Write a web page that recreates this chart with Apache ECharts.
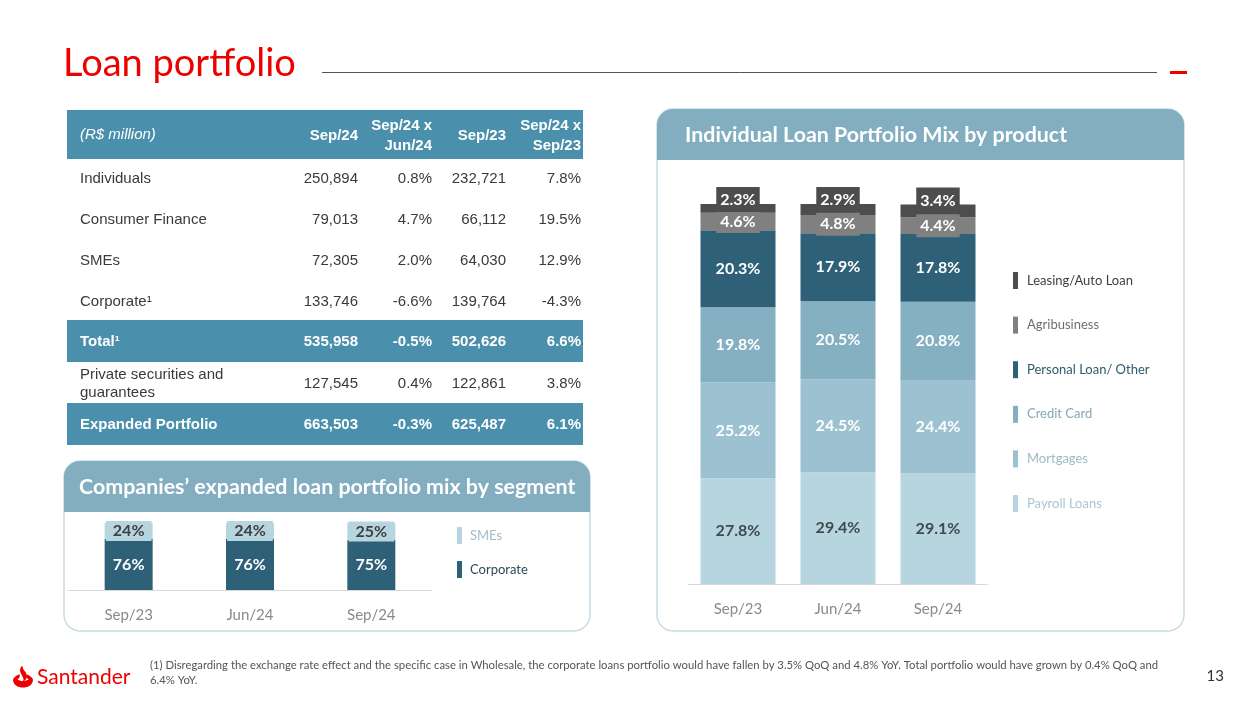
<!DOCTYPE html>
<html>
<head>
<meta charset="utf-8">
<script src="https://cdn.jsdelivr.net/npm/echarts@6/dist/echarts.min.js"></script>
<style>
html,body{margin:0;padding:0;background:#fff;}
#main{width:1246px;height:701px;}
</style>
</head>
<body>
<div id="main"></div>
<script>
// ---------- DATA ----------
const categories = ['Sep/23', 'Jun/24', 'Sep/24'];

// Companies' expanded loan portfolio mix by segment (%)
const smesShare = [24, 24, 25];
const corporateShare = [76, 76, 75];

// Individual Loan Portfolio Mix by product (%)
const productNames = ['Leasing/Auto Loan', 'Agribusiness', 'Personal Loan/ Other', 'Credit Card', 'Mortgages', 'Payroll Loans'];
const payrollLoans = [27.8, 29.4, 29.1];
const mortgages = [25.2, 24.5, 24.4];
const creditCard = [19.8, 20.5, 20.8];
const personalLoan = [20.3, 17.9, 17.8];
const agribusiness = [4.6, 4.8, 4.4];
const leasingAuto = [2.3, 2.9, 3.4];

// Table (R$ million)
const tableHeaders = ['(R$ million)', 'Sep/24', 'Sep/24 x\nJun/24', 'Sep/23', 'Sep/24 x\nSep/23'];
const tableRows = ['Individuals', 'Consumer Finance', 'SMEs', 'Corporate¹', 'Total¹', 'Private securities and\nguarantees', 'Expanded Portfolio'];
const colSep24 = ['250,894', '79,013', '72,305', '133,746', '535,958', '127,545', '663,503'];
const colQoQ = ['0.8%', '4.7%', '2.0%', '-6.6%', '-0.5%', '0.4%', '-0.3%'];
const colSep23 = ['232,721', '66,112', '64,030', '139,764', '502,626', '122,861', '625,487'];
const colYoY = ['7.8%', '19.5%', '12.9%', '-4.3%', '6.6%', '3.8%', '6.1%'];
const highlightedRows = ['Total¹', 'Expanded Portfolio'];

const footnote = '(1) Disregarding the exchange rate effect and the specific case in Wholesale, the corporate loans portfolio would have fallen by 3.5% QoQ and 4.8% YoY. Total portfolio would have grown by 0.4% QoQ and\n6.4% YoY.';

// ---------- STYLE / LAYOUT ----------
const RED = '#EC0000';
const TABLE_BLUE = '#4a8fab';
const PANEL_BLUE = '#82aebf';
const PANEL_BORDER = '#c8dbe3';
const C_LEASING = '#4d4d4d', C_AGRI = '#808080', C_PERSONAL = '#2e6177',
      C_CARD = '#84b0c1', C_MORT = '#9cc2d2', C_PAYROLL = '#b7d5df';
const FONT = 'Lato';

const colRight = [358, 432, 506, 581];
const rowY = [179, 220, 261, 302, 342, 384, 425];
const rowBand = {'Total¹': [320, 42], 'Expanded Portfolio': [403, 42]};

const graphics = [];
// Title
graphics.push({type: 'text', style: {text: 'Loan portfolio', x: 63, y: 64, fill: RED, font: '38px ' + FONT, textVerticalAlign: 'middle'}});
graphics.push({type: 'line', shape: {x1: 322, y1: 72.5, x2: 1157, y2: 72.5}, style: {stroke: '#555', lineWidth: 1}});
graphics.push({type: 'rect', shape: {x: 1170, y: 71, width: 17, height: 3}, style: {fill: RED}});

// Table backgrounds
graphics.push({type: 'rect', shape: {x: 67, y: 110, width: 516, height: 49}, style: {fill: TABLE_BLUE}});
tableRows.forEach(function (r) {
  if (rowBand[r]) graphics.push({type: 'rect', shape: {x: 67, y: rowBand[r][0], width: 516, height: rowBand[r][1]}, style: {fill: TABLE_BLUE}});
});
// Table header
graphics.push({type: 'text', style: {text: tableHeaders[0], x: 80, y: 135, fill: '#fff', font: 'italic 15px "Liberation Sans", Arial', textVerticalAlign: 'middle'}});
for (let c = 1; c < tableHeaders.length; c++) {
  graphics.push({type: 'text', style: {text: tableHeaders[c], x: colRight[c - 1], y: 136, fill: '#fff', font: 'bold 15px "Liberation Sans", Arial', textAlign: 'right', textVerticalAlign: 'middle', lineHeight: 20}});
}
// Table body
const cols = [colSep24, colQoQ, colSep23, colYoY];
tableRows.forEach(function (r, i) {
  const hl = highlightedRows.indexOf(r) >= 0;
  const fill = hl ? '#fff' : '#3a3a3a';
  const font = (hl ? 'bold ' : '') + '15px "Liberation Sans", Arial';
  graphics.push({type: 'text', style: {text: r, x: 80, y: rowY[i], fill: fill, font: font, textVerticalAlign: 'middle', lineHeight: 18}});
  cols.forEach(function (col, c) {
    graphics.push({type: 'text', style: {text: col[i], x: colRight[c], y: rowY[i], fill: fill, font: font, textAlign: 'right', textVerticalAlign: 'middle'}});
  });
});

// Panels
function panel(x, y, w, h, title, titleX) {
  graphics.push({type: 'rect', shape: {x: x, y: y, width: w, height: h, r: 16}, style: {fill: '#fff', stroke: PANEL_BORDER, lineWidth: 1.5}, z: -10});
  graphics.push({type: 'rect', shape: {x: x, y: y, width: w, height: 51, r: [16, 16, 0, 0]}, style: {fill: PANEL_BLUE}, z: -9});
  graphics.push({type: 'text', style: {text: title, x: titleX, y: y + 26, fill: '#fff', font: 'bold 21.4px ' + FONT, textVerticalAlign: 'middle'}, z: -8});
}
panel(64, 461, 526, 170, 'Companies’ expanded loan portfolio mix by segment', 79);
panel(657, 109, 527, 522, 'Individual Loan Portfolio Mix by product', 685);

// Footer
graphics.push({type: 'text', style: {text: footnote, x: 150, y: 673, fill: '#555', font: '11.3px ' + FONT, textVerticalAlign: 'middle', lineHeight: 15}});
graphics.push({type: 'text', style: {text: '13', x: 1224, y: 676, fill: '#333', font: '15px ' + FONT, textAlign: 'right', textVerticalAlign: 'middle'}});
// Santander flame logo (approximation)
graphics.push({type: 'polygon', shape: {smooth: 0.35, points: [[13, 680], [16, 676], [19.5, 674.5], [19.5, 677.5], [17.5, 679.5], [23, 681], [28.5, 679.5], [26.5, 677.5], [26.5, 674.5], [30, 676], [33, 680], [30, 685.5], [23, 687.5], [16, 685.5]]}, style: {fill: RED}});
graphics.push({type: 'polygon', shape: {smooth: 0.4, points: [[22, 666], [20, 670.5], [22, 675.5], [23.5, 679], [23, 681.5], [26.5, 678.5], [26, 673], [23.5, 669.5]]}, style: {fill: RED}});
graphics.push({type: 'text', style: {text: 'Santander', x: 37, y: 677, fill: RED, font: '21px ' + FONT, textVerticalAlign: 'middle'}});

// ---------- SERIES ----------
const lbl = function (color, extra) {
  return Object.assign({show: true, position: 'inside', formatter: '{c}%', color: color, fontFamily: FONT, fontWeight: 'bold', fontSize: 16}, extra || {});
};

const option = {
  animation: false,
  textStyle: {fontFamily: FONT},
  graphic: {elements: graphics},
  grid: [
    {left: 68, top: 523, width: 364, height: 67},
    {left: 688, top: 204, width: 300, height: 380}
  ],
  xAxis: [
    {gridIndex: 0, type: 'category', data: categories, axisTick: {show: false},
     axisLine: {lineStyle: {color: '#d9d9d9'}}, axisLabel: {color: '#8a8a8a', fontSize: 15, margin: 18, fontFamily: FONT}},
    {gridIndex: 1, type: 'category', data: categories, axisTick: {show: false},
     axisLine: {lineStyle: {color: '#d9d9d9'}}, axisLabel: {color: '#8a8a8a', fontSize: 15, margin: 18, fontFamily: FONT}}
  ],
  yAxis: [
    {gridIndex: 0, type: 'value', min: 0, max: 100, show: false},
    {gridIndex: 1, type: 'value', min: 0, max: 100, show: false}
  ],
  legend: [
    {orient: 'vertical', left: 457, top: 527, padding: 0, itemWidth: 5, itemHeight: 17, itemGap: 17, icon: 'rect', selectedMode: false,
     textStyle: {fontSize: 13, fontFamily: FONT, padding: [0, 0, 0, 3]},
     data: [{name: 'SMEs', textStyle: {color: '#a3bcc6'}}, {name: 'Corporate', textStyle: {color: '#2f4a57'}}]},
    {orient: 'vertical', left: 1013, top: 272, padding: 0, itemWidth: 5, itemHeight: 17, itemGap: 27.6, icon: 'rect', selectedMode: false,
     textStyle: {fontSize: 13, fontFamily: FONT, padding: [0, 0, 0, 4]},
     data: [
       {name: productNames[0], textStyle: {color: '#404040'}},
       {name: productNames[1], textStyle: {color: '#6e6e6e'}},
       {name: productNames[2], textStyle: {color: '#2e5a6d'}},
       {name: productNames[3], textStyle: {color: '#86a8b7'}},
       {name: productNames[4], textStyle: {color: '#9dbac7'}},
       {name: productNames[5], textStyle: {color: '#a9c6d2'}}
     ]}
  ],
  series: [
    {name: 'Corporate', type: 'bar', stack: 'c', xAxisIndex: 0, yAxisIndex: 0, barWidth: 48, data: corporateShare,
     itemStyle: {color: C_PERSONAL}, label: lbl('#fff')},
    {name: 'SMEs', type: 'bar', stack: 'c', xAxisIndex: 0, yAxisIndex: 0, barWidth: 48, data: smesShare,
     itemStyle: {color: C_PAYROLL}, label: lbl('#404040', {backgroundColor: C_PAYROLL, padding: [3, 7, 1, 7]})},

    {name: productNames[5], type: 'bar', stack: 'i', xAxisIndex: 1, yAxisIndex: 1, barWidth: 75, data: payrollLoans,
     itemStyle: {color: C_PAYROLL}, label: lbl('#3e4a50')},
    {name: productNames[4], type: 'bar', stack: 'i', xAxisIndex: 1, yAxisIndex: 1, barWidth: 75, data: mortgages,
     itemStyle: {color: C_MORT}, label: lbl('#fff')},
    {name: productNames[3], type: 'bar', stack: 'i', xAxisIndex: 1, yAxisIndex: 1, barWidth: 75, data: creditCard,
     itemStyle: {color: C_CARD}, label: lbl('#fff')},
    {name: productNames[2], type: 'bar', stack: 'i', xAxisIndex: 1, yAxisIndex: 1, barWidth: 75, data: personalLoan,
     itemStyle: {color: C_PERSONAL}, label: lbl('#fff')},
    {name: productNames[1], type: 'bar', stack: 'i', xAxisIndex: 1, yAxisIndex: 1, barWidth: 75, data: agribusiness,
     itemStyle: {color: C_AGRI}, label: lbl('#fff', {backgroundColor: C_AGRI, padding: [4, 4, 3, 4]})},
    {name: productNames[0], type: 'bar', stack: 'i', xAxisIndex: 1, yAxisIndex: 1, barWidth: 75, data: leasingAuto,
     itemStyle: {color: C_LEASING}, label: lbl('#fff', {position: 'top', distance: -8, backgroundColor: C_LEASING, padding: [5, 4, 4, 4]})}
  ]
};

const chart = echarts.init(document.getElementById('main'));
chart.setOption(option);
</script>
</body>
</html>
